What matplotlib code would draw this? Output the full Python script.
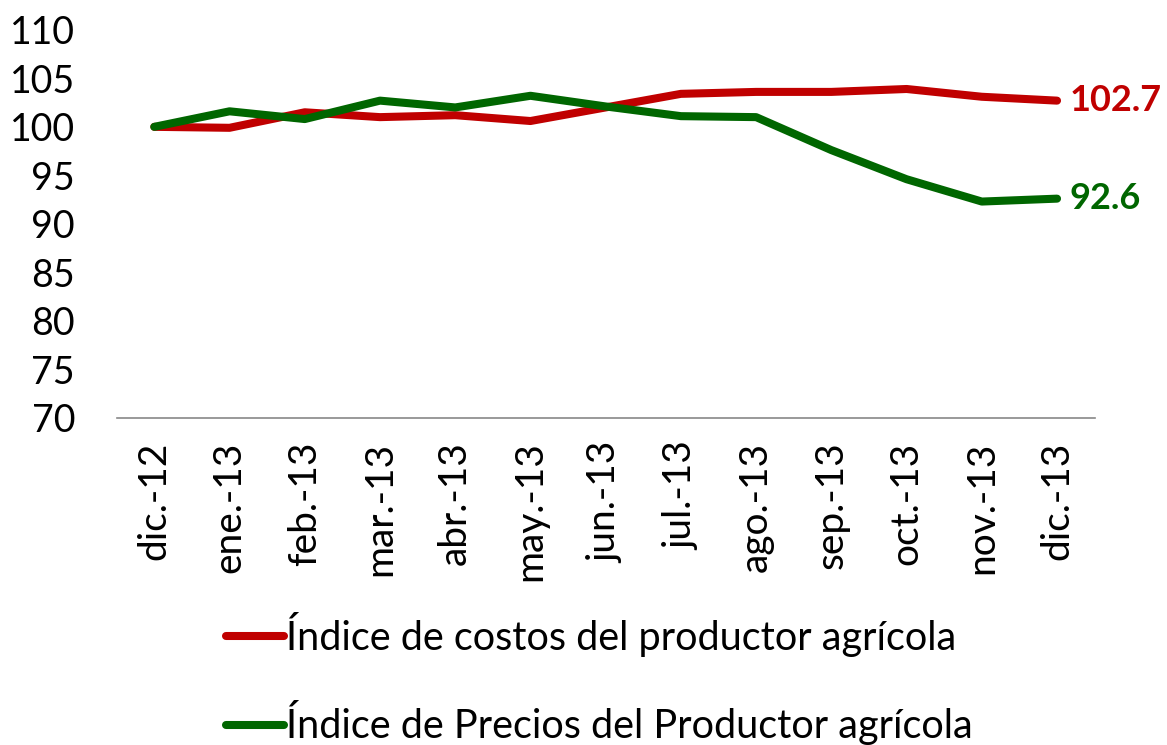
import matplotlib
matplotlib.use("Agg")
import matplotlib.pyplot as plt

categories = ["dic.-12", "ene.-13", "feb.-13", "mar.-13", "abr.-13", "may.-13", "jun.-13",
              "jul.-13", "ago.-13", "sep.-13", "oct.-13", "nov.-13", "dic.-13"]
costos = [100.0, 99.9, 101.5, 101.0, 101.2, 100.6, 102.0, 103.4, 103.6, 103.6, 103.9, 103.1, 102.7]
precios = [100.0, 101.6, 100.8, 102.7, 102.0, 103.2, 102.1, 101.1, 101.0, 97.6, 94.6, 92.3, 92.6]
label_costos = "Índice de costos del productor agrícola"
label_precios = "Índice de Precios del Productor agrícola"
yticks = [70, 75, 80, 85, 90, 95, 100, 105, 110]

plt.rcParams['font.family'] = ['Lato', 'DejaVu Sans']

red = "#C00000"
green = "#006600"

fig = plt.figure(figsize=(11.67, 7.45), dpi=100)
ax = fig.add_axes([0.100, 0.439, 0.838, 0.521])

x = list(range(len(categories)))
l1, = ax.plot(x, costos, color=red, lw=5.8, solid_capstyle='round', solid_joinstyle='round', label=label_costos)
l2, = ax.plot(x, precios, color=green, lw=5.8, solid_capstyle='round', solid_joinstyle='round', label=label_precios)

ax.set_xlim(-0.5, len(categories) - 0.5)
ax.set_ylim(70, 110)
ax.set_yticks(yticks)
ax.set_xticks(x)
ax.set_xticklabels(categories, rotation=90, fontsize=28)
for t in ax.get_yticklabels():
    t.set_fontsize(27)
ax.tick_params(axis='y', length=0, pad=30)
ax.tick_params(axis='x', length=0, pad=17)
for s in ['top', 'right', 'left']:
    ax.spines[s].set_visible(False)
ax.spines['bottom'].set_color('#888888')
ax.spines['bottom'].set_linewidth(1.2)

ax.annotate(f"{costos[-1]:.1f}", xy=(x[-1], costos[-1]), xytext=(9, 0), textcoords='offset points',
            color=red, fontsize=26, fontweight='bold', va='center', ha='left', annotation_clip=False)
ax.annotate(f"{precios[-1]:.1f}", xy=(x[-1], precios[-1]), xytext=(9, 0), textcoords='offset points',
            color=green, fontsize=26, fontweight='bold', va='center', ha='left', annotation_clip=False)

fig.legend(handles=[l1, l2], loc='upper left', bbox_to_anchor=(0.18, 0.2), frameon=False,
           fontsize=28.5, handlelength=1.46, handletextpad=0.05, labelspacing=1.1, borderaxespad=0)

fig.savefig("out.png", dpi=100)
